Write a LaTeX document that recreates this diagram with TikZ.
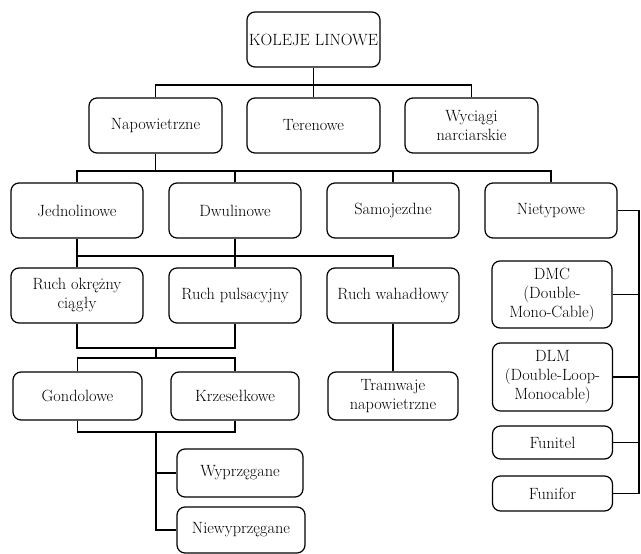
\documentclass[tikz,border=0pt]{standalone}
\usepackage{fontspec}
\usepackage{tikz}

\tikzset{
  box/.style={draw, rounded corners=8pt, line width=1.2pt, align=center,
    inner sep=2pt, minimum width=132pt, minimum height=55pt,
    font=\fontsize{16.3}{19}\selectfont},
  small/.style={minimum height=48pt},
  side/.style={minimum width=120pt},
  link/.style={line width=1.2pt},
}

\begin{document}
\begin{tikzpicture}[x=1pt, y=-1pt]
            \useasboundingbox (0,0) rectangle (641,554);

            \node[box, minimum width=133pt] (kol) at (313.5, 39.5) {KOLEJE LINOWE};

            \node[box, minimum width=133pt] (nap) at (155.5, 125.5) {Napowietrzne};
            \node[box, minimum width=133pt] (ter) at (313.5, 125.5) {Terenowe};
            \node[box, minimum width=133pt] (wyc) at (471.5, 125.5) {Wyciągi\\narciarskie};

            \node[box] (jed) at (77, 210.5) {Jednolinowe};
            \node[box] (dwu) at (235, 210.5) {Dwulinowe};
            \node[box] (sam) at (393, 210.5) {Samojezdne};
            \node[box] (nie) at (551, 210.5) {Nietypowe};

            \node[box] (rok) at (77, 295.5) {Ruch okrężny\\ciągły};
            \node[box] (rpu) at (235, 295.5) {Ruch pulsacyjny};
            \node[box] (rwa) at (393, 295.5) {Ruch wahadłowy};

            \node[box, small, minimum width=129pt] (gon) at (77.5, 396) {Gondolowe};
            \node[box, small, minimum width=128pt] (krz) at (235, 396) {Krzesełkowe};
            \node[box, small, minimum width=130pt] (tra) at (393, 396) {Tramwaje\\napowietrzne};

            \node[box, small, minimum width=126pt] (wyp) at (240, 473) {Wyprzęgane};
            \node[box, minimum height=46pt, minimum width=128pt] (nwy) at (241, 530) {Niewyprzęgane};

            \node[box, side, minimum height=67pt] (dmc) at (552, 294.5) {DMC\\(Double-\\Mono-Cable)};
            \node[box, side, minimum height=68pt] (dlm) at (552.5, 377) {DLM\\(Double-Loop-\\Monocable)};
            \node[box, side, minimum height=33pt] (fut) at (552.5, 442.5) {Funitel};
            \node[box, side, minimum height=35pt] (fuf) at (552.5, 493.5) {Funifor};

            \coordinate (b1) at (313.5, 85);
            \coordinate (b2) at (155.5, 171);
            \coordinate (b3) at (235, 256);
            \coordinate (b4) at (156, 348);
            \coordinate (b5) at (156, 358);
            \coordinate (b6) at (156, 432);
            \coordinate (r) at (639, 0);

            \draw[link] (kol.south) -- (b1); % kol-bus
            \draw[link] (nap.north) |- (b1) -| (wyc.north); % nap-wyc
            \draw[link] (b1) -- (ter.north); % bus-ter

            \draw[link] (nap.south) -- (b2); % nap-bus
            \draw[link] (jed.north) |- (b2) -| (nie.north); % jed-nie
            \draw[link] (dwu.north) |- (b2); % dwu
            \draw[link] (sam.north) |- (b2); % sam

            \draw[link] (jed.south) -- (rok.north); % jed-rok
            \draw[link] (dwu.south) -- (rpu.north); % dwu-rpu
            \draw[link] (rok.north |- b3) -| (rwa.north); % bus-rwa
            \draw[link] (rwa.south) -- (tra.north); % rwa-tra

            \draw[link] (rok.south) |- (b4) -| (rpu.south); % rok-rpu
            \draw[link] (b4) -- (b5);
            \draw[link] (gon.north) |- (b5) -| (krz.north); % gon-krz

            \draw[link] (gon.south) |- (b6) -| (krz.south); % gon-krz
            \draw[link] (b6) |- (wyp.west); % wyp
            \draw[link] (b6) |- (nwy.west); % nwy

            \draw[link] (nie.east) -| (r |- fuf.east) -- (fuf.east); % nie-fuf
            \draw[link] (dmc.east) -- (dmc.east -| r); % dmc
            \draw[link] (dlm.east) -- (dlm.east -| r); % dlm
            \draw[link] (fut.east) -- (fut.east -| r); % fut
        \end{tikzpicture}
\end{document}
